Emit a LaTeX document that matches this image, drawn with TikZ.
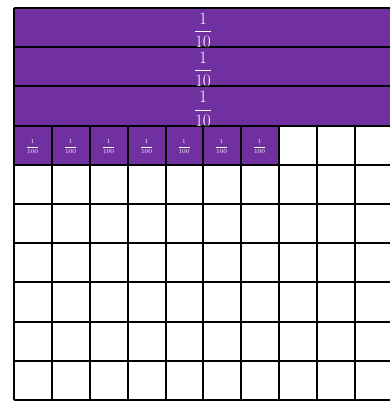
\documentclass[tikz,border=0pt]{standalone}
\usepackage{amsmath}
\usepackage{tikz}
\definecolor{gridpurple}{HTML}{7030A0}

\begin{document}
\begin{tikzpicture}[x=1pt, y=-1pt,
  tenth/.style={text=white, inner sep=0pt, font=\fontsize{16}{19}\selectfont},
  hundredth/.style={text=white, inner sep=0pt, font=\fontsize{6}{7}\selectfont},
  gridline/.style={line width=2pt}]
\useasboundingbox (0,0) rectangle (390,401);
% purple part: three tenths and seven hundredths
\fill[gridpurple] (14,8) rectangle (393,126);
\fill[gridpurple] (14,126) rectangle (279,165);
\foreach \y in {8,47,86,126,165,204,243,282,322,361,400} \draw[gridline] (14,\y)--(393,\y);
\draw[gridline] (14,8)--(14,400);
\draw[gridline] (393,8)--(393,400);
\foreach \x in {52,90,128,166,203,241,279,317,355} \draw[gridline] (\x,126)--(\x,400);
\foreach \y [count=\r] in {30.4,69.6,108.8} \node[tenth] (t\r) at (203,\y) {$\dfrac{1}{10}$};
\foreach \x [count=\c] in {32.5,70.5,108.5,146.5,184,221.5,259.5} \node[hundredth] (h\c) at (\x,146.4) {$\dfrac{1}{100}$};
\end{tikzpicture}
\end{document}
